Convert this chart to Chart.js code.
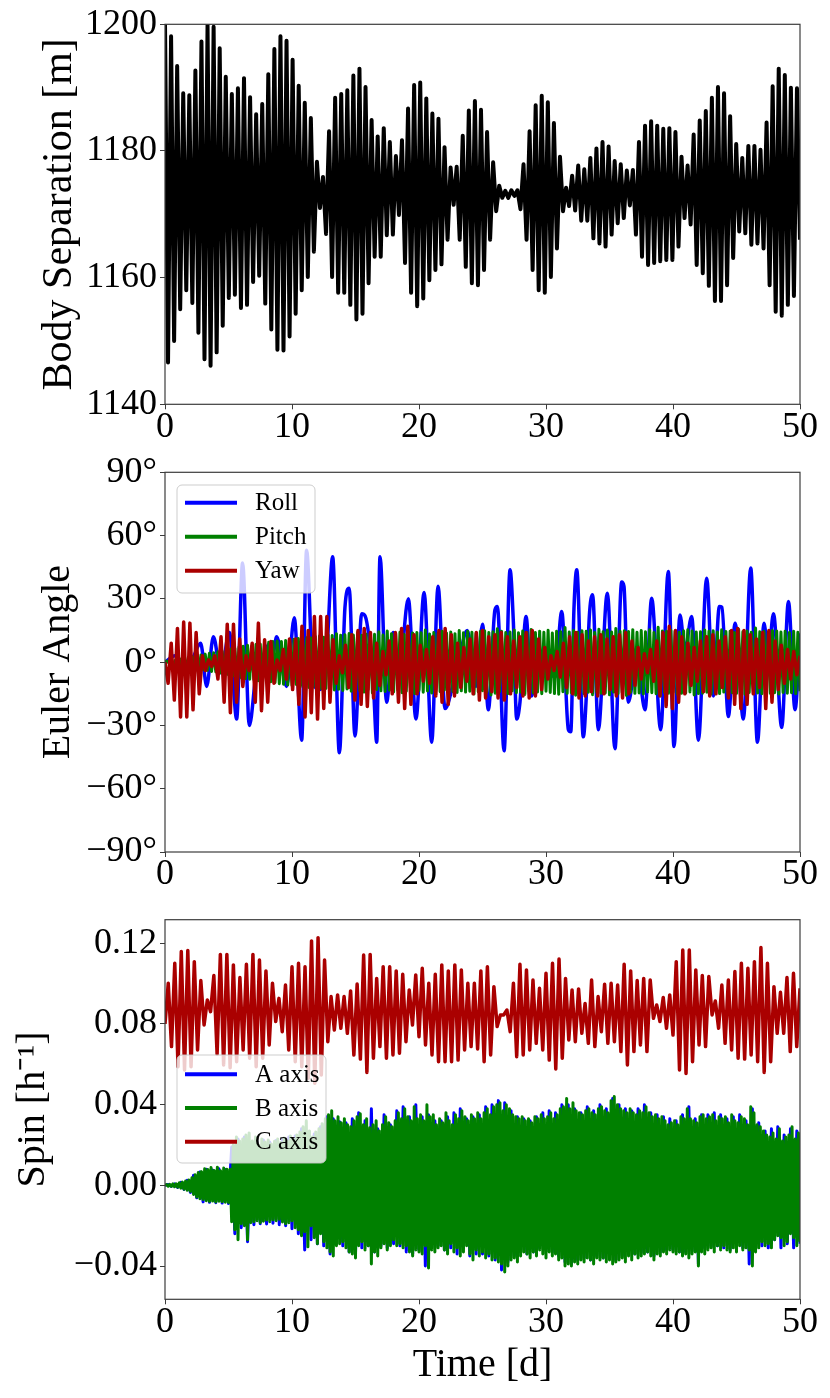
<!DOCTYPE html>
<html>
<head>
<meta charset="utf-8">
<script src="https://cdn.jsdelivr.net/npm/chart.js@4.4.1/dist/chart.umd.min.js"></script>
<style>
html, body { margin: 0; padding: 0; background: #fff; }
#fig { position: relative; width: 830px; height: 1398px; }
canvas { position: absolute; left: 0; }
</style>
</head>
<body>
<div id="fig">
  <canvas id="sepChart" width="830" height="450" style="top:0px"></canvas>
  <canvas id="eulerChart" width="830" height="450" style="top:450px"></canvas>
  <canvas id="spinChart" width="830" height="498" style="top:900px"></canvas>
</div>
<script>
// ---- data ----
const dayTicks = [0, 10, 20, 30, 40, 50];
const sepTicks = [1140, 1160, 1180, 1200];
const angleTicks = [-90, -60, -30, 0, 30, 60, 90];
const spinTicks = [-0.04, 0, 0.04, 0.08, 0.12];

// body separation: successive maxima and minima [m]
const sepMax = [1200.2, 1198.1, 1193.4, 1189.1, 1188.8, 1192.7, 1197.3, 1199.9, 1199.6, 1196.2,
  1191.7, 1189.0, 1189.9, 1191.5, 1188.5, 1185.8, 1187.4, 1192.1, 1196.1, 1198.1,
  1197.4, 1194.4, 1190.3, 1187.6, 1185.2, 1178.3, 1175.9, 1183.1, 1188.4, 1189.0,
  1189.6, 1191.9, 1193.0, 1190.1, 1184.9, 1182.3, 1183.6, 1181.4, 1179.2, 1181.7,
  1186.7, 1190.4, 1190.8, 1188.3, 1185.9, 1185.1, 1180.6, 1177.4, 1177.5, 1182.4,
  1186.4, 1187.9,
  1186.5, 1183.0, 1178.2, 1174.5, 1173.7, 1173.8, 1173.8, 1177.9, 1183.1, 1187.2,
  1188.7, 1187.7, 1184.4, 1179.1, 1174.2, 1176.1, 1177.7, 1177.1, 1178.9, 1180.4,
  1181.4, 1180.7, 1178.4, 1177.9, 1176.9, 1177.0, 1181.4, 1184.0, 1184.7, 1184.0,
  1183.5, 1183.6, 1183.0, 1179.1, 1177.7, 1182.6, 1184.8, 1186.3, 1188.4, 1190.1,
  1189.1, 1185.5, 1181.1, 1178.9, 1180.8, 1180.8, 1180.2, 1184.5, 1190.2, 1193.0,
  1192.0, 1190.0, 1189.9];
const sepMin = [1146.6, 1150.0, 1155.0, 1158.0, 1156.0, 1151.3, 1147.1, 1146.1, 1148.2, 1152.4,
  1156.8, 1157.3, 1155.2, 1155.7, 1159.3, 1160.3, 1155.9, 1151.8, 1148.6, 1148.5,
  1150.7, 1154.3, 1158.0, 1160.1, 1164.1, 1171.0, 1166.9, 1160.1, 1157.6, 1157.6,
  1155.7, 1153.4, 1154.3, 1159.1, 1163.3, 1163.3, 1166.7, 1166.8, 1169.9, 1162.3,
  1157.6, 1155.5, 1156.7, 1159.6, 1161.2, 1162.1, 1166.0, 1171.5, 1166.0, 1161.7,
  1159.1, 1158.8,
  1161.2, 1166.0, 1170.5, 1172.6, 1172.6, 1172.9, 1170.8, 1166.0, 1161.2, 1158.0,
  1157.6, 1160.1, 1164.6, 1170.5, 1171.3, 1170.6, 1169.0, 1169.0, 1166.2, 1165.4,
  1164.9, 1166.8, 1168.6, 1169.4, 1171.4, 1166.8, 1163.3, 1162.0, 1162.3, 1162.6,
  1162.8, 1162.8, 1164.9, 1169.4, 1168.4, 1162.0, 1160.7, 1158.7, 1156.3, 1156.3,
  1158.8, 1163.1, 1167.3, 1167.0, 1165.2, 1165.4, 1164.6, 1158.8, 1154.6, 1154.0,
  1155.7, 1157.1, 1166.0];

// roll: turning points (day, degrees)
const rollDay = [0, 0.8, 1.6, 2.2, 2.81, 3.28, 3.81, 4.4, 5.07, 5.64,
  6.11, 6.64, 7.2, 7.74, 8.25, 8.5, 8.79, 9.58, 10.18, 10.76,
  11.15, 11.68, 12.2, 12.73, 13.2, 13.73, 14.17, 14.5, 14.96, 15.49,
  15.75, 16.4, 16.67, 16.93, 17.45, 17.98, 18.4, 19.16, 19.76, 20.4,
  21.0, 21.5, 22.05, 22.7, 23.2, 23.8, 24.5, 25.0, 25.46, 25.98,
  26.17, 26.7, 27.17, 27.43, 27.69, 27.95, 28.43, 28.87, 29.4, 29.92,
  30.71, 31.24, 31.76, 31.95, 32.2, 32.42, 32.94, 33.15, 33.41, 33.67,
  34.12, 34.83, 35.43, 35.96, 36.14, 36.48, 37.14, 37.8, 38.32, 39.03,
  39.63, 40.08, 40.55, 40.94, 41.47, 42.0, 42.65, 43.18, 43.65, 43.85,
  44.36, 44.89, 45.54, 46.12, 46.65, 47.17, 47.5, 47.91, 48.56, 49.09,
  49.61, 50.0];
const rollDeg = [0, 3, -4, 2, 9, -11.5, 12, -5, 14, -27,
  47, -30, -4, 3, 9, 4, 12, -11.5, 21, -37,
  53, -10, -13, 4, 50, -43, 26, 35, -35, 23,
  22, -10, -38, 50, -19, 14, -8, 30, -27, 33,
  -38, 36, -22, -10, 3, 15, -11.5, 18, -22.6, 24.8,
  26.4, -42, 43.8, 19, -27, -19, 21.6, -16, 2.7, -2,
  -7, 24, -32, -33, 25, 43.8, -35.4, -19, 21.6, 31.9,
  -32, 32.7, -41, 38, 35.9, -19, 2, -22.6, 30.3, -32,
  43, -40, 22.4, 5.8, 21.6, -37, 39.8, -16, 26.4, 26,
  -25.8, 18.5, -27, 44.6, -38, 18.5, 2, 23, -31, 28.8,
  -22.6, 13.7];

// pitch: fast oscillation, 6 samples per day [deg]
const pitchDeg = [0, 0.5, -0.6, 0.8, -0.9, 1.1,
  -1.2, 1.5, -1.6, 1.8, -2.0, 2.2,
  -2.3, 2.6, -2.8, 3.0, -3.2, 3.4,
  -3.5, 3.8, -3.9, 4.2, -4.4, 4.5,
  -4.6, 4.9, -5.1, 5.2, -5.5, 5.8,
  -6.0, 6.2, -6.5, 6.6, -7.0, 7.2,
  -7.4, 7.5, -7.8, 8.0, -8.1, 7.6,
  -8.3, 8.4, -8.8, 8.6, -9.0, 8.9,
  -9.2, 9.4, -9.3, 9.8, -9.6, 10.0,
  -10.2, 9.8, -10.5, 10.3, -10.8, 10.6,
  -11.0, 10.8, -10.6, 11.2, -11.5, 11.0,
  -11.3, 11.6, -12.0, 11.4, -11.8, 12.2,
  -12.0, 12.4, -12.6, 11.8, -12.5, 13.0,
  -12.8, 12.6, -13.2, 13.5, -12.9, 12.8,
  -13.4, 13.0, -12.7, 13.6, -13.8, 12.9,
  -13.1, 14.0, -13.5, 12.8, -14.2, 13.3,
  -12.9, 13.7, -14.6, 13.2, -13.0, 14.4,
  -13.6, 12.9, -13.9, 14.8, -13.3, 13.5,
  -14.1, 13.6, -13.2, 14.2, -14.5, 13.1,
  -13.8, 14.5, -13.0, 13.8, -14.9, 14.0,
  -13.4, 13.9, -14.3, 15.2, -13.7, 13.4,
  -14.6, 14.1, -13.5, 13.7, -14.0, 14.6,
  -13.2, 13.8, -14.8, 14.3, -13.9, 13.5,
  -14.4, 15.0, -13.6, 13.9, -14.2, 14.7,
  -13.8, 14.2, -15.1, 13.6, -14.0, 14.5,
  -13.5, 14.9, -14.3, 14.0, -15.6, 14.4,
  -14.7, 15.8, -14.0, 14.6, -13.8, 14.1,
  -14.9, 14.3, -13.6, 15.2, -14.5, 13.9,
  -14.2, 14.8, -15.3, 14.1, -13.9, 15.5,
  -14.6, 14.0, -14.1, 14.7, -15.0, 14.2,
  -13.8, 15.1, -14.4, 13.8, -14.9, 14.6,
  -15.2, 14.4, -14.0, 16.4, -14.8, 14.3,
  -14.5, 15.0, -15.7, 14.2, -14.1, 14.9,
  -14.9, 14.6, -14.3, 15.3, -15.4, 14.0,
  -14.2, 15.6, -14.7, 14.4, -14.6, 15.2,
  -15.5, 14.3, -14.2, 16.0, -14.9, 14.7,
  -14.4, 14.9, -15.8, 14.5, -14.3, 15.4,
  -14.8, 14.2, -14.6, 15.0, -15.1, 14.4,
  -14.1, 15.3, -14.5, 14.1, -15.0, 16.5,
  -15.9, 14.8, -14.4, 14.6, -14.7, 15.1,
  -14.3, 14.7, -15.2, 14.2, -14.8, 14.9,
  -14.6, 15.4, -14.1, 14.8, -15.6, 14.3,
  -14.9, 14.4, -14.7, 15.2, -14.3, 14.6,
  -15.1, 14.9, -14.4, 14.3, -14.9, 15.3,
  -14.2, 14.5, -15.4, 14.7, -14.5, 14.1,
  -14.8, 15.6, -14.2, 14.4, -15.2, 14.8,
  -14.4, 14.2, -14.9, 16.2, -14.6, 14.4,
  -15.0, 14.6, -14.3, 14.1, -14.8, 15.0,
  -14.5, 14.8, -15.1, 14.3, -14.4, 14.7,
  -14.7, 14.1, -14.5, 14.6, -15.0, 14.2,
  -13.8];

// yaw: successive extremes [deg]
const yawDeg = [0, -10, 9, -18, 16, -26, 19, -26, 18.5, -22.6,
  14, -15, 3, -4, 1, -2, 3, -8, 12, -19,
  18, -24, 18, -19, 11, -11.5, 3, -4, 9, -19,
  18.5, -23, 10.6, -19, 9.8, -10, 1, -4, 6, -8,
  11, -13, 11, -20, 17, -26, 15, -24, 21.6, -27,
  21.6, -22, 21.6, -19, 10.6, -10, 3, -5,
  8, -12, 13, -18, 15, -20, 16, -21, 14, -17, 9, -11,
  5, -6, 10, -15, 14, -19, 16, -22, 17, -20, 13, -15,
  8, -9, 6, -10, 12, -16, 15, -19, 16, -20, 13, -16,
  9, -12, 7, -9, 11, -15, 14, -18, 15, -17, 12, -14,
  13, -17, 14, -18, 12, -15, 10, -12, 12, -16, 14, -17,
  15, -16, 11, -13, 7, -8, 3, -4, 5, -7, 9, -12,
  12, -15, 14, -17, 13, -16, 10, -14, 12, -16, 13, -15,
  11, -13, 12, -16, 13, -17, 14, -15, 10, -11, 7, -8,
  4, -5, 6, -9, 10, -16, 14, -21, 17, -22, 15, -19,
  12, -15, 9, -11, 7, -9, 10, -14, 12, -16, 13, -15,
  10, -12, 12, -17, 15, -20, 16, -22, 15, -20, 13, -15,
  11, -12, 14, -22, 15, -19, 10, -13, 8, -10, 6, -8, 5, -6, 3];

// spin A axis, 4 samples per day [1/h]
const spinA = [0, 0.0004, -0.0005, 0.0007,
  -0.0010, 0.0015, -0.0020, 0.0025,
  -0.0035, 0.0050, -0.0062, 0.0066,
  -0.0082, 0.0080, -0.0084, 0.0076,
  -0.0086, 0.0082, -0.0088, 0.0078,
  -0.0090, 0.0190, -0.0240, 0.0230,
  -0.0210, 0.0240, -0.0280, 0.0210,
  -0.0195, 0.0220, -0.0190, 0.0225,
  -0.0192, 0.0215, -0.0188, 0.0222,
  -0.0195, 0.0230, -0.0200, 0.0240,
  -0.0215, 0.0245, -0.0240, 0.0280,
  -0.0320, 0.0260, -0.0270, 0.0255,
  -0.0290, 0.0290, -0.0300, 0.0340,
  -0.0340, 0.0330, -0.0290, 0.0315,
  -0.0300, 0.0310, -0.0330, 0.0330,
  -0.0340, 0.0360, -0.0310, 0.0320,
  -0.0300, 0.0380, -0.0330, 0.0280,
  -0.0300, 0.0350, -0.0310, 0.0300,
  -0.0290, 0.0370, -0.0300, 0.0390,
  -0.0330, 0.0340, -0.0340, 0.0400,
  -0.0320, 0.0340, -0.0400, 0.0350,
  -0.0310, 0.0320, -0.0300, 0.0320,
  -0.0320, 0.0340, -0.0310, 0.0360,
  -0.0340, 0.0380, -0.0300, 0.0330,
  -0.0350, 0.0340, -0.0340, 0.0350,
  -0.0340, 0.0390, -0.0350, 0.0400,
  -0.0370, 0.0420, -0.0420, 0.0410,
  -0.0380, 0.0370, -0.0350, 0.0340,
  -0.0330, 0.0330, -0.0340, 0.0320,
  -0.0330, 0.0340, -0.0310, 0.0360,
  -0.0320, 0.0370, -0.0330, 0.0360,
  -0.0350, 0.0400, -0.0380, 0.0400,
  -0.0390, 0.0380, -0.0370, 0.0360,
  -0.0360, 0.0390, -0.0370, 0.0370,
  -0.0350, 0.0400, -0.0360, 0.0380,
  -0.0360, 0.0430, -0.0370, 0.0400,
  -0.0350, 0.0380, -0.0330, 0.0370,
  -0.0340, 0.0380, -0.0330, 0.0400,
  -0.0330, 0.0360, -0.0350, 0.0350,
  -0.0330, 0.0340, -0.0320, 0.0330,
  -0.0320, 0.0320, -0.0330, 0.0350,
  -0.0330, 0.0390, -0.0320, 0.0330,
  -0.0390, 0.0350, -0.0310, 0.0350,
  -0.0300, 0.0360, -0.0300, 0.0350,
  -0.0310, 0.0330, -0.0320, 0.0340,
  -0.0300, 0.0350, -0.0310, 0.0320,
  -0.0390, 0.0380, -0.0320, 0.0310,
  -0.0300, 0.0270, -0.0310, 0.0280,
  -0.0270, 0.0290, -0.0310, 0.0250,
  -0.0290, 0.0280, -0.0310, 0.0270,
  -0.0290];

// spin B axis, 8 samples per day [1/h]
const spinB = [0, 0.0004, -0.0004, 0.0005, -0.0005, 0.0007, -0.0007, 0.0008,
  -0.0009, 0.0012, -0.0014, 0.0016, -0.0019, 0.0021, -0.0024, 0.0027,
  -0.0030, 0.0038, -0.0045, 0.0052, -0.0058, 0.0064, -0.0066, 0.0068,
  -0.0070, 0.0082, -0.0076, 0.0078, -0.0080, 0.0088, -0.0078, 0.0074,
  -0.0082, 0.0090, -0.0079, 0.0072, -0.0081, 0.0086, -0.0084, 0.0080,
  -0.0085, 0.0080, -0.0180, 0.0200, -0.0220, 0.0240, -0.0270, 0.0220,
  -0.0190, 0.0230, -0.0200, 0.0250, -0.0270, 0.0260, -0.0185, 0.0220,
  -0.0180, 0.0240, -0.0175, 0.0200, -0.0185, 0.0230, -0.0178, 0.0215,
  -0.0172, 0.0225, -0.0180, 0.0205, -0.0170, 0.0218, -0.0176, 0.0230,
  -0.0168, 0.0212, -0.0182, 0.0235, -0.0190, 0.0220, -0.0185, 0.0245,
  -0.0175, 0.0228, -0.0210, 0.0250, -0.0220, 0.0265, -0.0250, 0.0290,
  -0.0230, 0.0320, -0.0305, 0.0270, -0.0200, 0.0240, -0.0260, 0.0265,
  -0.0290, 0.0280, -0.0240, 0.0305, -0.0280, 0.0330, -0.0310, 0.0350,
  -0.0330, 0.0370, -0.0350, 0.0320, -0.0300, 0.0340, -0.0290, 0.0310,
  -0.0280, 0.0330, -0.0310, 0.0300, -0.0330, 0.0290, -0.0340, 0.0320,
  -0.0360, 0.0340, -0.0300, 0.0355, -0.0280, 0.0300, -0.0320, 0.0330,
  -0.0300, 0.0285, -0.0390, 0.0300, -0.0330, 0.0320, -0.0350, 0.0270,
  -0.0310, 0.0300, -0.0290, 0.0340, -0.0320, 0.0310, -0.0300, 0.0290,
  -0.0270, 0.0320, -0.0300, 0.0360, -0.0290, 0.0330, -0.0310, 0.0380,
  -0.0300, 0.0340, -0.0330, 0.0320, -0.0350, 0.0390, -0.0320, 0.0330,
  -0.0330, 0.0350, -0.0340, 0.0320, -0.0300, 0.0400, -0.0410, 0.0340,
  -0.0320, 0.0350, -0.0330, 0.0300, -0.0310, 0.0330, -0.0300, 0.0310,
  -0.0320, 0.0360, -0.0340, 0.0320, -0.0290, 0.0300, -0.0330, 0.0350,
  -0.0310, 0.0330, -0.0350, 0.0370, -0.0330, 0.0340, -0.0300, 0.0320,
  -0.0340, 0.0350, -0.0370, 0.0330, -0.0320, 0.0360, -0.0350, 0.0330,
  -0.0330, 0.0360, -0.0360, 0.0380, -0.0340, 0.0350, -0.0370, 0.0390,
  -0.0360, 0.0400, -0.0380, 0.0410, -0.0390, 0.0370, -0.0430, 0.0400,
  -0.0400, 0.0380, -0.0370, 0.0350, -0.0360, 0.0340, -0.0380, 0.0330,
  -0.0350, 0.0340, -0.0330, 0.0320, -0.0340, 0.0330, -0.0360, 0.0310,
  -0.0330, 0.0340, -0.0350, 0.0330, -0.0320, 0.0350, -0.0340, 0.0330,
  -0.0360, 0.0340, -0.0330, 0.0360, -0.0350, 0.0330, -0.0340, 0.0350,
  -0.0370, 0.0380, -0.0360, 0.0390, -0.0400, 0.0430, -0.0390, 0.0380,
  -0.0400, 0.0410, -0.0380, 0.0370, -0.0390, 0.0360, -0.0370, 0.0350,
  -0.0380, 0.0370, -0.0360, 0.0380, -0.0370, 0.0360, -0.0390, 0.0350,
  -0.0360, 0.0380, -0.0370, 0.0390, -0.0360, 0.0370, -0.0380, 0.0360,
  -0.0370, 0.0420, -0.0390, 0.0440, -0.0380, 0.0400, -0.0370, 0.0380,
  -0.0360, 0.0370, -0.0380, 0.0360, -0.0350, 0.0380, -0.0370, 0.0360,
  -0.0340, 0.0350, -0.0360, 0.0370, -0.0350, 0.0360, -0.0340, 0.0390,
  -0.0330, 0.0360, -0.0350, 0.0340, -0.0370, 0.0350, -0.0340, 0.0330,
  -0.0350, 0.0340, -0.0330, 0.0320, -0.0340, 0.0300, -0.0320, 0.0310,
  -0.0330, 0.0320, -0.0340, 0.0300, -0.0330, 0.0340, -0.0350, 0.0330,
  -0.0340, 0.0380, -0.0360, 0.0330, -0.0340, 0.0320, -0.0330, 0.0310,
  -0.0400, 0.0340, -0.0330, 0.0350, -0.0340, 0.0330, -0.0320, 0.0340,
  -0.0310, 0.0350, -0.0330, 0.0320, -0.0300, 0.0340, -0.0320, 0.0330,
  -0.0300, 0.0340, -0.0320, 0.0310, -0.0330, 0.0350, -0.0310, 0.0320,
  -0.0330, 0.0310, -0.0300, 0.0340, -0.0320, 0.0330, -0.0310, 0.0300,
  -0.0320, 0.0390, -0.0400, 0.0360, -0.0330, 0.0300, -0.0310, 0.0290,
  -0.0280, 0.0270, -0.0300, 0.0250, -0.0290, 0.0240, -0.0310, 0.0260,
  -0.0270, 0.0230, -0.0250, 0.0280, -0.0260, 0.0220, -0.0300, 0.0240,
  -0.0280, 0.0250, -0.0240, 0.0290, -0.0260, 0.0230, -0.0300, 0.0260,
  -0.0280];

// spin C axis: start value, then successive maxima and minima [1/h]
const spinCStart = 0.080;
const spinCMax = [0.1002, 0.1101, 0.1159, 0.1164, 0.1109, 0.1015, 0.0919, 0.1040, 0.1145, 0.1145,
  0.1093, 0.1030, 0.1096, 0.1145, 0.1117, 0.1063, 0.1002, 0.0927, 0.0993, 0.1084,
  0.1101, 0.1084, 0.1212, 0.1228, 0.1117, 0.0936, 0.0944, 0.0936, 0.0964, 0.0998,
  0.1142, 0.1145, 0.1026, 0.1084, 0.1084, 0.1063, 0.1046, 0.0969, 0.1043, 0.1076,
  0.1002, 0.1046, 0.1093, 0.1063, 0.1093, 0.1068, 0.1002, 0.1002, 0.1063,
  0.1084, 0.0985, 0.0845, 0.0869, 0.1002, 0.1096, 0.1068, 0.1018, 0.0977, 0.1051,
  0.1101, 0.1122, 0.1026, 0.0969, 0.0974, 0.0902, 0.1018, 0.0936, 0.0997, 0.1002,
  0.0993, 0.1096, 0.1063, 0.1015, 0.1026, 0.1018, 0.0894, 0.0931, 0.0944, 0.1109,
  0.1167, 0.1167, 0.1068, 0.1040, 0.1035, 0.0914, 0.0993, 0.1018, 0.1060, 0.1101,
  0.1076, 0.1109, 0.1179, 0.1101, 0.0985, 0.0957, 0.1030, 0.1051, 0.0977];
const spinCMin = [0.0688, 0.0588, 0.0572, 0.0588, 0.0671, 0.0795, 0.0861, 0.0650, 0.0597, 0.0583,
  0.0613, 0.0671, 0.0630, 0.0588, 0.0630, 0.0696, 0.0812, 0.0762, 0.0671, 0.0613,
  0.0588, 0.0531, 0.0506, 0.0547, 0.0712, 0.0770, 0.0779, 0.0754, 0.0646, 0.0626,
  0.0560, 0.0630, 0.0688, 0.0630, 0.0646, 0.0655, 0.0712, 0.0795, 0.0737, 0.0696,
  0.0646, 0.0613, 0.0613, 0.0613, 0.0621, 0.0671, 0.0688, 0.0676, 0.0613,
  0.0646, 0.0787, 0.0845, 0.0762, 0.0638, 0.0646, 0.0671, 0.0704, 0.0671, 0.0621,
  0.0577, 0.0630, 0.0721, 0.0712, 0.0754, 0.0704, 0.0688, 0.0762, 0.0704, 0.0712,
  0.0663, 0.0597, 0.0663, 0.0696, 0.0663, 0.0828, 0.0812, 0.0779, 0.0745, 0.0572,
  0.0555, 0.0613, 0.0696, 0.0688, 0.0845, 0.0779, 0.0704, 0.0671, 0.0630, 0.0626,
  0.0646, 0.0613, 0.0560, 0.0613, 0.0754, 0.0754, 0.0663, 0.0688];

// ---- helpers ----
const T_END = 50;
const FONT = '"Liberation Serif", "Times New Roman", serif';

// samples spaced evenly over the 50 day run
function overRun(vals) {
  return vals.map((v, i) => ({ x: i * T_END / (vals.length - 1), y: v }));
}
function interleave(a, b) {
  const out = [];
  a.forEach((v, i) => { out.push(v); if (i < b.length) out.push(b[i]); });
  return out;
}
const minus = s => s.replace('-', '\u2212');

// frame around the plot and a matplotlib-like legend box
const framePlugin = {
  id: 'frame',
  afterDatasetsDraw(chart, args, opts) {
    const { ctx, chartArea: a } = chart;
    ctx.save();
    ctx.strokeStyle = '#3c3c3c';
    ctx.lineWidth = 1.2;
    ctx.strokeRect(a.left, a.top, a.right - a.left, a.bottom - a.top);
    const L = opts.box;
    if (L) {
      ctx.beginPath();
      ctx.roundRect(L.x, L.y, L.w, L.h, 5);
      ctx.fillStyle = 'rgba(255,255,255,0.8)';
      ctx.fill();
      ctx.strokeStyle = 'rgba(200,200,200,0.9)';
      ctx.lineWidth = 1;
      ctx.stroke();
      ctx.font = '25px ' + FONT;
      ctx.textBaseline = 'middle';
      chart.data.datasets.forEach((ds, i) => {
        const y = L.y0 + i * L.dy;
        ctx.strokeStyle = ds.borderColor;
        ctx.lineWidth = 4;
        ctx.beginPath();
        ctx.moveTo(L.x + 8, y);
        ctx.lineTo(L.x + 60, y);
        ctx.stroke();
        ctx.fillStyle = '#000';
        ctx.fillText(ds.label, L.x + 78, y + 1);
      });
    }
    ctx.restore();
  }
};

function scalesFor(p) {
  const grid = { display: true, drawOnChartArea: false, drawTicks: true, tickLength: 5, color: '#3c3c3c', lineWidth: 1 };
  return {
    x: {
      type: 'linear', min: 0, max: T_END,
      afterBuildTicks: s => { s.ticks = dayTicks.map(v => ({ value: v })); },
      afterFit: s => { s.height = p.bottomH; },
      grid: grid, border: { display: false },
      ticks: { color: '#000', padding: 0, maxRotation: 0, autoSkip: false,
        font: { family: FONT, size: 36, lineHeight: 1 } },
      title: p.xTitle ? { display: true, text: p.xTitle, color: '#000',
        font: { family: FONT, size: 40, lineHeight: 1 }, padding: { top: 0, bottom: p.xTitlePad } } : { display: false }
    },
    y: {
      type: 'linear', min: p.yMin, max: p.yMax,
      afterBuildTicks: s => { s.ticks = p.yTicks.map(v => ({ value: v })); },
      afterFit: s => { s.width = 165; },
      grid: grid, border: { display: false },
      ticks: { color: '#000', padding: 3, autoSkip: false, callback: p.fmt,
        font: { family: FONT, size: 36, lineHeight: 0.3 } },
      title: { display: true, text: p.yTitle, color: '#000',
        font: { family: FONT, size: p.yTitleSize || 40, lineHeight: 1 }, padding: { top: p.yTitlePad, bottom: 0 } }
    }
  };
}

function baseOptions(p, box) {
  return {
    responsive: false,
    animation: false,
    events: [],
    layout: { padding: { top: p.top, right: 30, bottom: 0, left: 0 } },
    elements: { point: { radius: 0 }, line: { borderJoinStyle: 'round' } },
    plugins: { legend: { display: false }, tooltip: { enabled: false }, frame: { box: box } },
    scales: scalesFor(p)
  };
}

// ---- body separation (canvas 0..450) ----
new Chart(document.getElementById('sepChart'), {
  type: 'line',
  data: { datasets: [{
    label: 'Separation', data: overRun(interleave(sepMax, sepMin)),
    borderColor: '#000000', borderWidth: 4, tension: 0
  }] },
  options: baseOptions({ top: 24.3, bottomH: 45.7, yMin: 1140, yMax: 1200, yTicks: sepTicks,
    fmt: v => String(v), yTitle: 'Body Separation [m]', yTitleSize: 42, yTitlePad: 39 }, null),
  plugins: [framePlugin]
});

// ---- Euler angles (canvas 450..900) ----
new Chart(document.getElementById('eulerChart'), {
  type: 'line',
  data: { datasets: [
    { label: 'Roll', data: rollDay.map((d, i) => ({ x: d, y: rollDeg[i] })),
      borderColor: '#0000ff', borderWidth: 3.5, cubicInterpolationMode: 'monotone', order: 3 },
    { label: 'Pitch', data: overRun(pitchDeg),
      borderColor: '#008000', borderWidth: 3, tension: 0, order: 2 },
    { label: 'Yaw', data: overRun(yawDeg),
      borderColor: '#aa0000', borderWidth: 3.5, tension: 0, order: 1 }
  ] },
  options: baseOptions({ top: 22.3, bottomH: 48, yMin: -90, yMax: 90, yTicks: angleTicks,
    fmt: v => minus(String(v)) + '\u00b0', yTitle: 'Euler Angle', yTitlePad: 38 },
    { x: 177, y: 35, w: 138, h: 108, y0: 52.7, dy: 34 }),
  plugins: [framePlugin]
});

// ---- spin rates (canvas 900..1398) ----
new Chart(document.getElementById('spinChart'), {
  type: 'line',
  data: { datasets: [
    { label: 'A axis', data: overRun(spinA), borderColor: '#0000ff', borderWidth: 3, tension: 0, order: 3 },
    { label: 'B axis', data: overRun(spinB), borderColor: '#008000', borderWidth: 3, tension: 0, order: 2 },
    { label: 'C axis', data: overRun([spinCStart].concat(interleave(spinCMax, spinCMin))),
      borderColor: '#aa0000', borderWidth: 3.5, tension: 0, order: 1 }
  ] },
  options: baseOptions({ top: 19.7, bottomH: 98.7, yMin: -0.0565, yMax: 0.1317, yTicks: spinTicks,
    fmt: v => minus(v.toFixed(2)), yTitle: 'Spin [h\u207b\u00b9]', yTitlePad: 13,
    xTitle: 'Time [d]', xTitlePad: 13 },
    { x: 177, y: 155, w: 149, h: 108, y0: 174.3, dy: 33.7 }),
  plugins: [framePlugin]
});
</script>
</body>
</html>
